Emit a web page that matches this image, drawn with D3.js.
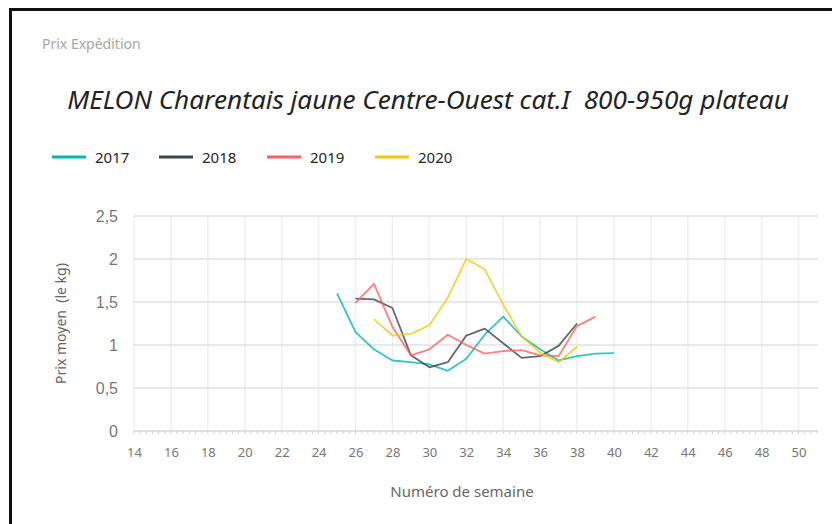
<!DOCTYPE html>
<html>
<head>
<meta charset="utf-8">
<script src="https://cdn.jsdelivr.net/npm/d3@7"></script>
<style>
  body { margin: 0; background: #fff; }
  svg { display: block; font-family: "Noto Sans", "Open Sans", sans-serif; }
</style>
</head>
<body>
<div id="chart"></div>
<script>
// data
var years = ["2017", "2018", "2019", "2020"];
var colors = ["#01B8AA", "#374649", "#FD625E", "#F2C80F"];
var weeks2017 = [25, 26, 27, 28, 29, 30, 31, 32, 33, 34, 35, 36, 37, 38, 39, 40];
var prix2017 = [1.6, 1.15, 0.95, 0.82, 0.8, 0.775, 0.7, 0.84, 1.12, 1.33, 1.1, 0.95, 0.82, 0.87, 0.9, 0.905];
var weeks2018 = [26, 27, 28, 29, 30, 31, 32, 33, 34, 35, 36, 37, 38];
var prix2018 = [1.54, 1.53, 1.43, 0.88, 0.74, 0.8, 1.11, 1.19, 1.02, 0.85, 0.87, 0.99, 1.25];
var weeks2019 = [26, 27, 28, 29, 30, 31, 32, 33, 34, 35, 36, 37, 38, 39];
var prix2019 = [1.49, 1.71, 1.21, 0.88, 0.95, 1.12, 1.0, 0.9, 0.93, 0.94, 0.88, 0.87, 1.22, 1.33];
var weeks2020 = [27, 28, 29, 30, 31, 32, 33, 34, 35, 36, 37, 38];
var prix2020 = [1.3, 1.11, 1.13, 1.23, 1.55, 2.0, 1.88, 1.47, 1.1, 0.91, 0.8, 0.98];
var xTicks = [14, 16, 18, 20, 22, 24, 26, 28, 30, 32, 34, 36, 38, 40, 42, 44, 46, 48, 50];
var yTicks = [0, 0.5, 1, 1.5, 2, 2.5];

function buildChart() {
    var series = [
        { key: years[0], weeks: weeks2017, vals: prix2017 },
        { key: years[1], weeks: weeks2018, vals: prix2018 },
        { key: years[2], weeks: weeks2019, vals: prix2019 },
        { key: years[3], weeks: weeks2020, vals: prix2020 }
    ];

    var W = 832, H = 524;
    var svg = d3.select("#chart").append("svg").attr("width", W).attr("height", H);

    // frame
    svg.append("path")
        .attr("d", "M10.5," + H + " V9.5 H" + W)
        .attr("fill", "none")
        .attr("stroke", "#111")
        .attr("stroke-width", 3);

    svg.append("text")
        .attr("x", 42).attr("y", 49)
        .attr("fill", "#a6a6a6")
        .style("font-size", "14px")
        .text("Prix Expédition");

    var title = svg.append("text")
        .attr("x", 428).attr("y", 109)
        .attr("text-anchor", "middle")
        .attr("fill", "#222")
        .style("font-style", "italic")
        .style("font-size", "20px")
        .text("MELON Charentais jaune Centre-Ouest cat.I\u00a0 800-950g plateau");
    var tw = title.node().getComputedTextLength();
    title.style("font-size", (20 * 722 / tw).toFixed(2) + "px");

    // legend
    var color = d3.scaleOrdinal().domain(years).range(colors);
    var legX = [52, 159, 267, 375];
    years.forEach(function(yr, i) {
        svg.append("line")
            .attr("x1", legX[i]).attr("x2", legX[i] + 34)
            .attr("y1", 157).attr("y2", 157)
            .attr("stroke", color(yr)).attr("stroke-width", 3);
        svg.append("text")
            .attr("x", legX[i] + 43).attr("y", 163)
            .attr("fill", "#252525")
            .style("font-size", "15px")
            .text(yr);
    });

    var pl = 134, pr = 818, pt = 216, pb = 431;
    var x = d3.scaleLinear().domain([14, 51]).range([pl, pr - 1]);
    var y = d3.scaleLinear().domain([0, 2.5]).range([pb, pt]);

    // gridlines
    svg.append("g").selectAll("line").data(xTicks).enter().append("line")
        .attr("x1", function(d) { return x(d); }).attr("x2", function(d) { return x(d); })
        .attr("y1", pt).attr("y2", pb)
        .attr("stroke", "#efefef").attr("stroke-width", 1.5);
    svg.append("g").selectAll("line").data(yTicks).enter().append("line")
        .attr("x1", pl).attr("x2", pr)
        .attr("y1", function(d) { return y(d); }).attr("y2", function(d) { return y(d); })
        .attr("stroke", function(d) { return d === 0 ? "#d8d8d8" : "#e2e2e2"; })
        .attr("stroke-width", 1.5);

    // small ticks under the x axis
    var minor = d3.range(14, 51.01, 1 / 3);
    svg.append("g").selectAll("line").data(minor).enter().append("line")
        .attr("x1", function(d) { return x(d); }).attr("x2", function(d) { return x(d); })
        .attr("y1", pb).attr("y2", pb + 3)
        .attr("stroke", "#d0d0d0").attr("stroke-width", 1);

    // axes text
    var ax = d3.axisBottom(x).tickValues(xTicks).tickSize(0).tickPadding(17);
    var gx = svg.append("g").attr("transform", "translate(0," + pb + ")").call(ax);
    gx.select(".domain").remove();
    gx.selectAll("text").attr("fill", "#777").style("font-size", "13px")
        .style("font-family", "'Liberation Sans Narrow', 'Noto Sans', sans-serif");

    var ay = d3.axisLeft(y).tickValues(yTicks).tickSize(0).tickPadding(16)
        .tickFormat(function(d) { return String(d).replace(".", ","); });
    var gy = svg.append("g").attr("transform", "translate(" + pl + ",0)").call(ay);
    gy.select(".domain").remove();
    gy.selectAll("text").attr("fill", "#777").style("font-size", "16px");

    svg.append("text")
        .attr("transform", "translate(66," + ((pt + pb) / 2) + ") rotate(-90)")
        .attr("text-anchor", "middle")
        .attr("fill", "#666")
        .style("font-size", "14px")
        .text("Prix moyen\u00a0 (le kg)");

    svg.append("text")
        .attr("x", 462).attr("y", 497)
        .attr("text-anchor", "middle")
        .attr("fill", "#666")
        .style("font-size", "15px")
        .text("Numéro de semaine");

    // lines
    var line = d3.line()
        .x(function(d) { return x(d[0]); })
        .y(function(d) { return y(d[1]); });

    svg.append("g").selectAll("path").data(series).enter().append("path")
        .attr("fill", "none")
        .attr("stroke", function(d) { return color(d.key); })
        .attr("stroke-width", 1.8)
        .attr("stroke-opacity", 0.8)
        .attr("stroke-linejoin", "round")
        .attr("d", function(d) {
            return line(d.weeks.map(function(w, i) { return [w, d.vals[i]]; }));
        });
}

buildChart();
</script>
</body>
</html>
